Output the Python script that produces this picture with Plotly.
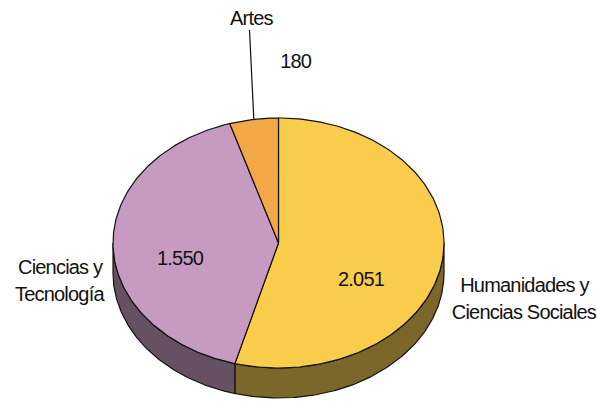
import numpy as np
import plotly.graph_objects as go

categories = ["Humanidades y<br>Ciencias Sociales", "Ciencias y<br>Tecnología", "Artes"]
values = [2051, 1550, 180]
value_labels = ["2.051", "1.550", "180"]
top_colors = ["#F9CD4B", "#C79BC1", "#F2A846"]
side_colors = ["#7C672A", "#665064", "#7A5423"]

CX, CY, RX, RY, DEPTH = 278.5, 243, 165.5, 125, 30
FONT = "Liberation Sans"
FS = 20
LINE = 27
label_pos = [(524, 298.5), (60, 280), (251, 18)]
value_pos = [(361, 279), (180, 258), (295, 61)]


def pt(a, dy=0):
    a = np.asarray(a, dtype=float)
    return CX + RX * np.sin(a), CY - RY * np.cos(a) + dy


fig = go.Figure()
fr = np.cumsum([0] + values) / sum(values) * 2 * np.pi

# side wall (front half only)
for i in range(3):
    a0, a1 = max(fr[i], np.pi / 2), min(fr[i + 1], 3 * np.pi / 2)
    if a1 <= a0:
        continue
    t = np.linspace(a0, a1, 120)
    x1, y1 = pt(t)
    x2, y2 = pt(t[::-1], DEPTH)
    fig.add_trace(go.Scatter(x=np.r_[x1, x2, x1[0]], y=np.r_[y1, y2, y1[0]], mode="lines",
                             fill="toself", fillcolor=side_colors[i],
                             line=dict(color="#111111", width=1.2), hoverinfo="skip"))

# top wedges
for i in range(3):
    t = np.linspace(fr[i], fr[i + 1], 200)
    x, y = pt(t)
    fig.add_trace(go.Scatter(x=np.r_[CX, x, CX], y=np.r_[CY, y, CY], mode="lines",
                             fill="toself", fillcolor=top_colors[i],
                             line=dict(color="#111111", width=1.2), hoverinfo="skip"))

# leader line for Artes
mid = (fr[2] + fr[3]) / 2
lx, ly = pt(mid)
fig.add_trace(go.Scatter(x=[249.5, float(lx)], y=[30, float(ly)], mode="lines",
                         line=dict(color="#111111", width=1.2), hoverinfo="skip"))


def add_text(txt, x, y):
    fig.add_annotation(x=x, y=y, text=txt, showarrow=False, xanchor="center", yanchor="middle",
                       font=dict(family=FONT, size=FS, color="#111111"), align="center")


for cat, (x, y) in zip(categories, label_pos):
    parts = cat.split("<br>")
    for k, part in enumerate(parts):
        add_text(part, x, y + (k - (len(parts) - 1) / 2) * LINE)
for txt, (x, y) in zip(value_labels, value_pos):
    add_text(txt, x, y)

fig.update_layout(width=597, height=401, margin=dict(l=0, r=0, t=0, b=0), showlegend=False,
                  paper_bgcolor="white", plot_bgcolor="white",
                  xaxis=dict(range=[0, 597], visible=False, fixedrange=True),
                  yaxis=dict(range=[401, 0], visible=False, fixedrange=True))
fig.write_html("out.html", config={"displayModeBar": False},
               post_script="document.body.style.margin='0';document.documentElement.style.overflow='hidden';"
                           "document.querySelectorAll('.annotation-text').forEach(function(t){t.style.letterSpacing='-0.8px';});")
